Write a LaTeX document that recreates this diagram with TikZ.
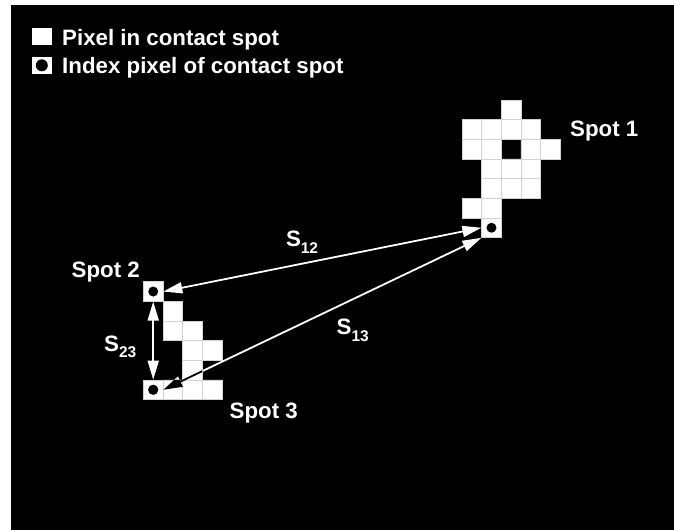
\documentclass[tikz,border=0pt]{standalone}
\usepackage{fontspec}
\setmainfont{Liberation Sans}
\usetikzlibrary{arrows.meta}
\tikzset{
  cellst/.style={fill=white, draw=gray!35, line width=0.5pt},
  idxpix/.style={rectangle, fill=white, draw=gray!35, line width=0.5pt, minimum size=19.65pt, inner sep=0pt},
  lbl/.style={text=white, font=\bfseries\fontsize{22.3}{26}\selectfont, inner sep=0pt, anchor=base west},
  legsq/.style={rectangle, fill=white, minimum width=19.5pt, minimum height=17pt, inner sep=0pt},
  arr/.style={white, line width=1.8pt, {Triangle[length=19pt,width=11pt]}-{Triangle[length=19pt,width=11pt]}},
  arrx/.style={black, line width=1.8pt, {Triangle[length=19pt,width=11pt]}-{Triangle[length=19pt,width=11pt]}}
}
\newcommand\cA[2]{({462+#1*19.65},{100+#2*19.65}) rectangle ++(19.65,19.65)}
\newcommand\cB[2]{({143.4+#1*19.65},{281.7+#2*19.65}) rectangle ++(19.65,19.65)}
\newcommand\sub[2]{\raisebox{-#1pt}{\fontsize{15.5}{17}\selectfont #2}}
\begin{document}
\begin{tikzpicture}[x=1pt,y=-1pt]
\useasboundingbox (0,0) rectangle (674,530);
\fill[white] (0,0) rectangle (674,530);
\fill[black] (11,5) rectangle (674,530);
% legend
\node[legsq] (l1) at (41.8,36.6) {};
\node[legsq] (l2) at (41.8,65.3) {};
\fill[black] (l2.center) circle (6pt);
\node[lbl] (t1) at (62,45) {Pixel in contact spot};
\node[lbl] (t2) at (62,73.3) {Index pixel of contact spot};
% spot 1
\path[cellst] \cA{2}{0};
\path[cellst] \cA{0}{1} \cA{1}{1} \cA{2}{1} \cA{3}{1};
\path[cellst] \cA{0}{2} \cA{1}{2} \cA{3}{2} \cA{4}{2};
\path[cellst] \cA{1}{3} \cA{2}{3} \cA{3}{3};
\path[cellst] \cA{1}{4} \cA{2}{4} \cA{3}{4};
\path[cellst] \cA{0}{5} \cA{1}{5};
\node[idxpix] (i1) at ({462+1.5*19.65},{100+6.5*19.65}) {};
\fill[black] (i1.center) circle (5pt);
% spots 2 and 3
\path[cellst] \cB{1}{1};
\path[cellst] \cB{1}{2} \cB{2}{2};
\path[cellst] \cB{2}{3} \cB{3}{3};
\path[cellst] \cB{2}{4};
\path[cellst] \cB{1}{5} \cB{2}{5} \cB{3}{5};
\node[idxpix] (i2) at ({143.4+0.5*19.65},{281.7+0.5*19.65}) {};
\node[idxpix] (i3) at ({143.4+0.5*19.65},{281.7+5.5*19.65}) {};
\fill[black] (i2.center) circle (5pt);
\fill[black] (i3.center) circle (5pt);
% labels
\node[lbl] (sp1) at (570,136) {Spot 1};
\node[lbl] (sp2) at (71.5,277) {Spot 2};
\node[lbl] (sp3) at (229.5,418.5) {Spot 3};
\node[lbl] (s12) at (285.8,246.7) {S\sub{6.6}{12}};
\node[lbl] (s13) at (336.5,334) {S\sub{7.6}{13}};
\node[lbl] (s23) at (104,351) {S\sub{6.6}{23}};
% connectors
\draw[arr] (i2.east) -- (i1.west);
\draw[arr] (i3.east) -- (i1.south west);
\draw[arr] (i2.south) -- (i3.north);
\begin{scope}
\clip \cB{1}{1} \cB{1}{2} \cB{2}{2} \cB{2}{3} \cB{3}{3} \cB{2}{4} \cB{0}{5} \cB{1}{5} \cB{2}{5} \cB{3}{5};
\draw[arrx] (i3.east) -- (i1.south west);
\end{scope}
\fill[black] (i3.center) circle (5pt);
\end{tikzpicture}
\end{document}
